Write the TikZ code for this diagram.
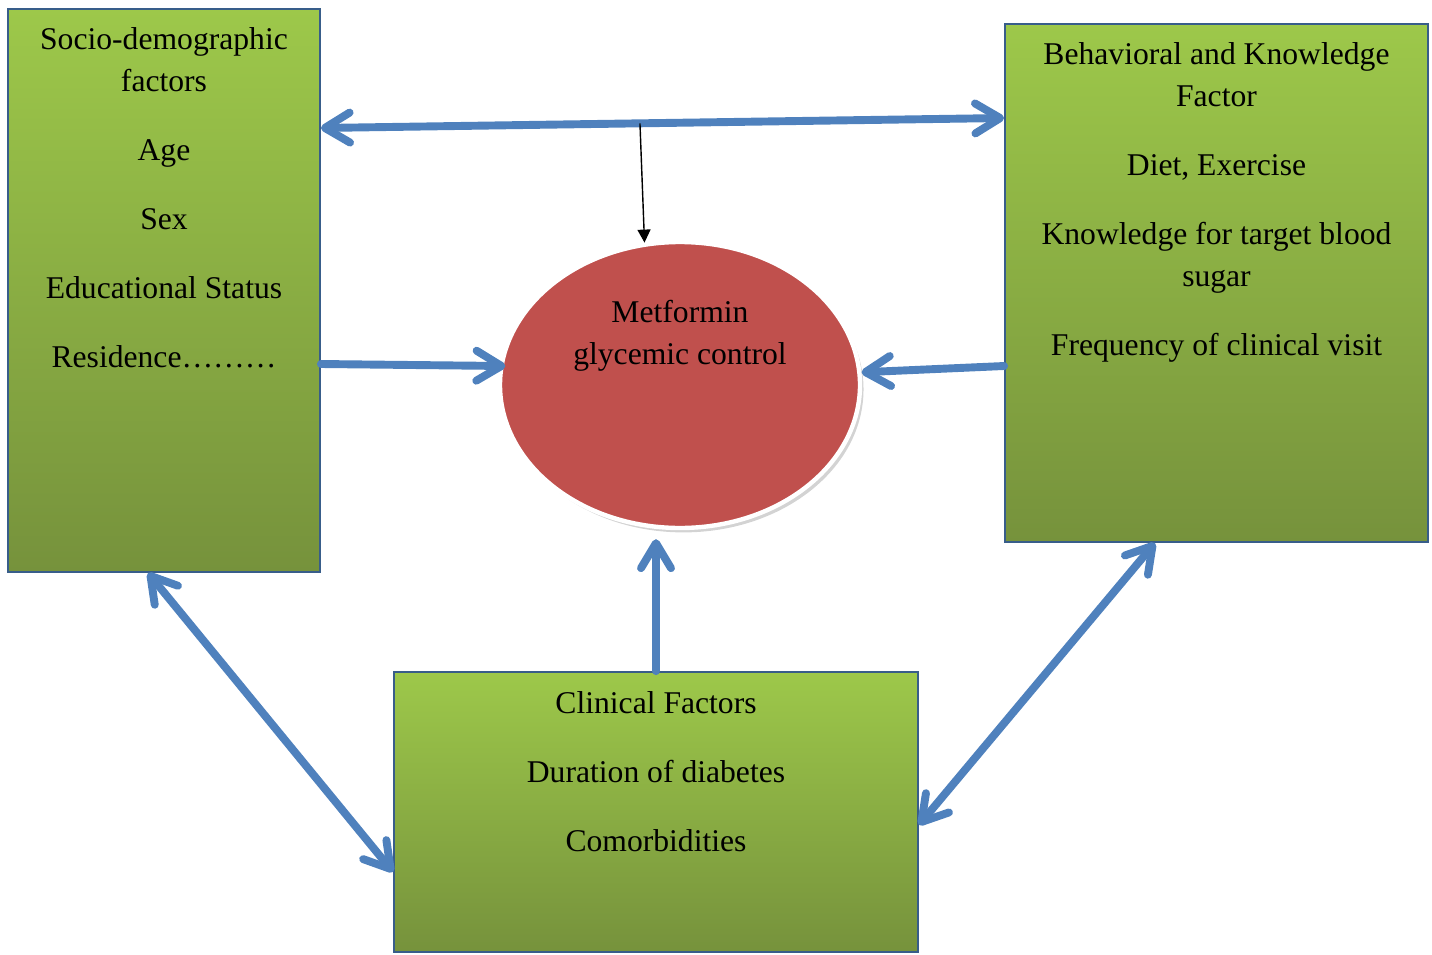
\documentclass[tikz,border=0pt]{standalone}
\usepackage{fontspec}
\setmainfont{Liberation Serif}
\usetikzlibrary{arrows.meta, shapes.geometric, shadows, calc, positioning}

\definecolor{boxtop}{RGB}{157,200,74}
\definecolor{boxbottom}{RGB}{118,146,60}
\definecolor{boxedge}{RGB}{56,93,138}
\definecolor{linkblue}{RGB}{79,129,189}
\definecolor{outcomered}{RGB}{192,80,77}

\begin{document}
\begin{tikzpicture}[
    factor/.style={draw=boxedge, line width=1pt, top color=boxtop, bottom color=boxbottom, inner sep=0pt},
    factortext/.style={anchor=north, align=center, inner sep=0pt, font=\fontsize{18}{23.9}\selectfont},
    outcome/.style={ellipse, fill=outcomered, draw=white, line width=2.5pt, inner sep=0pt,
        drop shadow={shadow xshift=2pt, shadow yshift=-2.5pt, opacity=0.35}},
    link/.style={draw=linkblue, line width=4.5pt, line cap=round, >={Straight Barb[length=0.5cm, width=0.6cm, round]}}
]
    \useasboundingbox (0,0) rectangle (28.64,-19.08);

    % Factor boxes
    \node[factor, minimum width=6.24cm, minimum height=11.26cm] (socio) at (3.28,-5.81) {};
    \node[factor, minimum width=8.46cm, minimum height=10.36cm] (behav) at (24.33,-5.66) {};
    \node[factor, minimum width=10.48cm, minimum height=5.6cm] (clinic) at (13.12,-16.24) {};

    % Outcome in the middle
    \node[outcome, minimum width=7.2cm, minimum height=5.72cm] (glyc) at (13.6,-7.7) {};

    % Texts of the boxes
    \node[factortext] (sociotext) at ([yshift=-0.38cm]socio.north) {Socio-demographic\\factors\\[15.4pt]Age\\[15.4pt]Sex\\[15.4pt]Educational Status\\[15.4pt]Residence………};
    \node[factortext] (behavtext) at ([yshift=-0.38cm]behav.north) {Behavioral and Knowledge\\Factor\\[15.4pt]Diet, Exercise\\[15.4pt]Knowledge for target blood\\sugar\\[15.4pt]Frequency of clinical visit};
    \node[factortext] (clinictext) at ([yshift=-0.4cm]clinic.north) {Clinical Factors\\[15.4pt]Duration of diabetes\\[15.4pt]Comorbidities};
    \node[factortext] (glyctext) at ([yshift=-1.2cm]glyc.north) {Metformin\\glycemic control};

    % Connections
    \coordinate (topL) at ([yshift=3.25cm]socio.east);
    \coordinate (topR) at ([yshift=3.3cm]behav.west);
    \draw[link, <->] (topL) -- (topR);
    \coordinate (drop) at ($(topL)!0.467!(topR)$);
    \draw[line width=0.8pt, -{Triangle[length=0.26cm, width=0.26cm]}] (drop) -- (glyc.104);

    \draw[link, ->] ([yshift=-1.47cm]socio.east) -- ([xshift=0.12cm]glyc.174);
    \draw[link, ->] ([yshift=-1.66cm]behav.west) -- (glyc.4);
    \draw[link, ->, shorten >=0.18cm] (clinic.north) -- (clinic.north |- glyc.south);

    \draw[link, <->] ([xshift=-0.32cm]socio.south) -- ([yshift=-1.2cm]clinic.west);
    \draw[link, <->] ([xshift=-1.23cm]behav.south) -- ([yshift=-0.26cm]clinic.east);
\end{tikzpicture}
\end{document}
